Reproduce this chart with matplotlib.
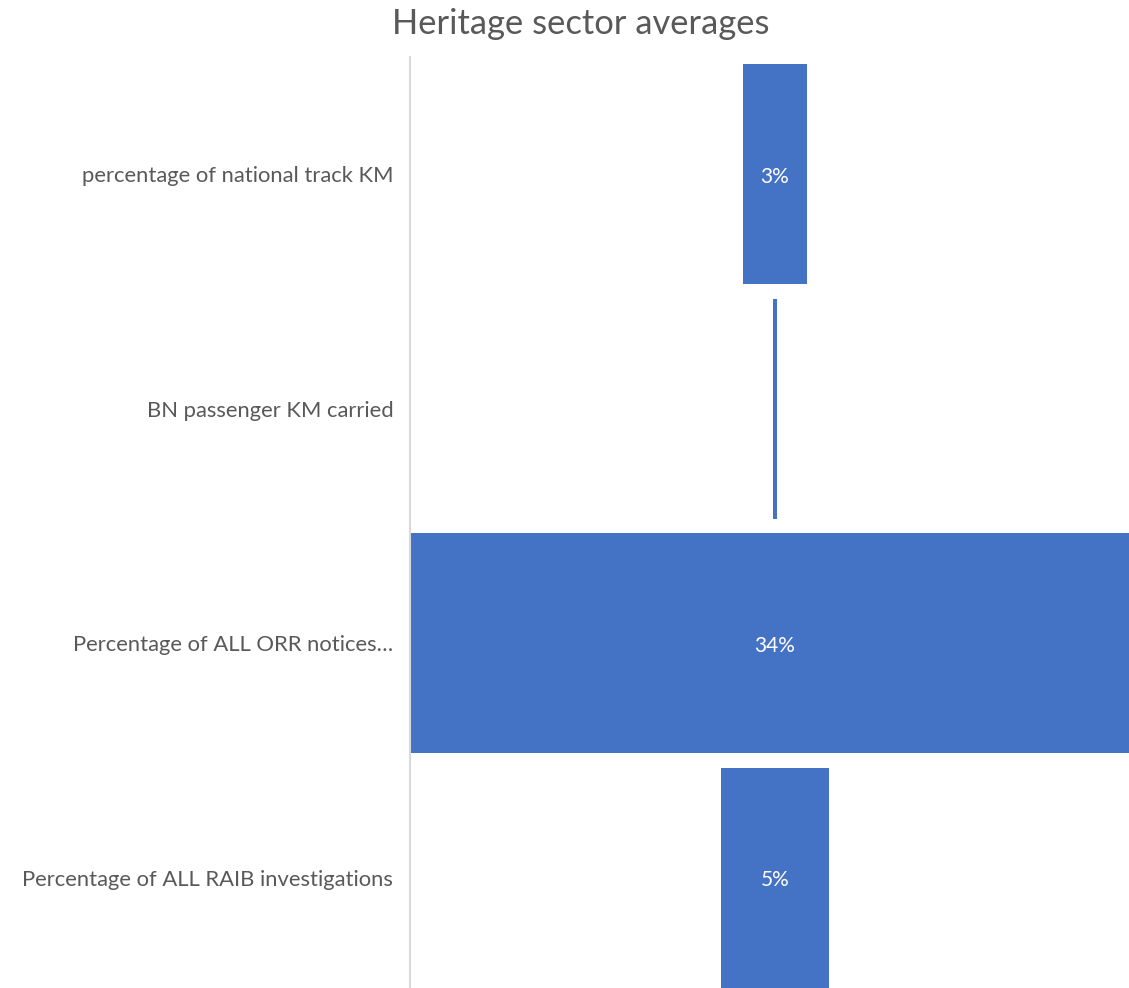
import matplotlib
matplotlib.use("Agg")
import matplotlib.pyplot as plt

# data
categories = ["percentage of national track KM",
              "BN passenger KM carried",
              "Percentage of ALL ORR notices\u2026",
              "Percentage of ALL RAIB investigations"]
values = [3.0, 0.2, 34.0, 5.0]
value_labels = ["3%", "", "34%", "5%"]

plt.rcParams['font.family'] = ['Lato', 'DejaVu Sans']

fig = plt.figure(figsize=(11.29, 9.88), dpi=100)
ax = fig.add_axes([410 / 1129, 0, 730 / 1129, 1 - 57 / 988])

y = range(len(categories))
bars = ax.barh(y, values, left=[-v / 2 for v in values], height=0.94,
               color='#4472C4')

for b, lab in zip(bars, value_labels):
    if lab:
        ax.text(0, b.get_y() + b.get_height() / 2 + 0.01, lab, ha='center',
                va='center', color='white', fontsize=15)

ax.set_xlim(-17, 17)
ax.set_ylim(3.47, -0.5)
ax.set_yticks(list(y))
ax.set_yticklabels(categories, fontsize=15.8, color='#595959')
ax.tick_params(axis='y', length=0, pad=12)
ax.set_xticks([])
for s in ['top', 'right', 'bottom']:
    ax.spines[s].set_visible(False)
ax.spines['left'].set_color('#d9d9d9')
ax.spines['left'].set_linewidth(1.5)

fig.text(581 / 1129, 1 - 24 / 988, "Heritage sector averages", ha='center',
         va='center', fontsize=24.8, color='#595959')

fig.savefig("out.png", dpi=100)
